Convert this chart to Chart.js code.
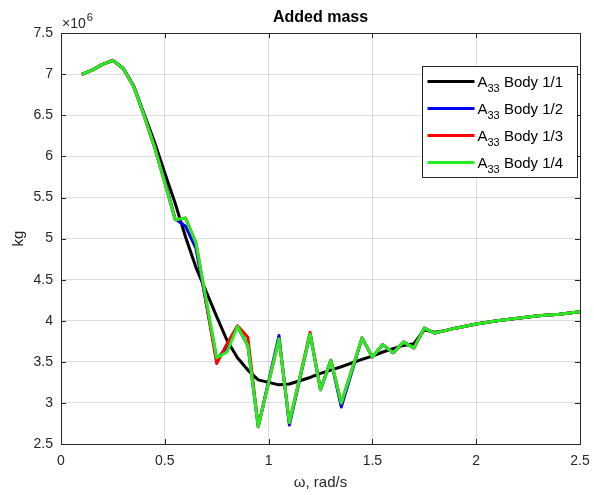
<!DOCTYPE html>
<html>
<head>
<meta charset="utf-8">
<script src="https://cdn.jsdelivr.net/npm/chart.js@4.4.1/dist/chart.umd.min.js"></script>
<style>
  html, body { margin: 0; padding: 0; background: #fff; }
  #wrap { width: 594px; height: 495px; }
</style>
</head>
<body>
<div id="wrap"><canvas id="myChart" width="594" height="495"></canvas></div>
<script>
// Frequencies (rad/s)
const omega = [0.10, 0.15, 0.20, 0.25, 0.30, 0.35, 0.40, 0.45, 0.50, 0.55, 0.60, 0.65, 0.75, 0.80,
    0.85, 0.90, 0.95, 1.05, 1.10, 1.20, 1.25, 1.30, 1.35, 1.45, 1.50, 1.55, 1.60, 1.65, 1.70, 1.75,
    1.80, 1.85, 1.90, 2.00, 2.10, 2.20, 2.30, 2.40, 2.50];

// Added mass A33 in 10^6 kg
const body11 = [7.00, 7.05, 7.12, 7.17, 7.07, 6.86, 6.52, 6.18, 5.80, 5.43, 5.02, 4.65, 4.05, 3.76,
    3.55, 3.40, 3.28, 3.22, 3.23, 3.31, 3.36, 3.40, 3.44, 3.53, 3.57, 3.62, 3.66, 3.70, 3.72, 3.89,
    3.86, 3.88, 3.91, 3.96, 4.00, 4.03, 4.06, 4.08, 4.11];
const body12 = [7.00, 7.05, 7.12, 7.17, 7.07, 6.85, 6.50, 6.12, 5.70, 5.24, 5.15, 4.88, 3.53, 3.68,
    3.93, 3.70, 2.71, 3.82, 2.73, 3.84, 3.16, 3.52, 2.95, 3.79, 3.56, 3.71, 3.61, 3.74, 3.67, 3.91,
    3.85, 3.88, 3.91, 3.96, 4.00, 4.03, 4.06, 4.08, 4.11];
const body13 = [7.00, 7.05, 7.12, 7.17, 7.07, 6.85, 6.50, 6.12, 5.68, 5.23, 5.25, 4.95, 3.48, 3.72,
    3.94, 3.80, 2.71, 3.78, 2.76, 3.86, 3.16, 3.52, 3.00, 3.79, 3.56, 3.71, 3.61, 3.74, 3.67, 3.91,
    3.85, 3.88, 3.91, 3.96, 4.00, 4.03, 4.06, 4.08, 4.11];
const body14 = [7.00, 7.05, 7.12, 7.17, 7.07, 6.85, 6.50, 6.12, 5.68, 5.23, 5.25, 4.95, 3.55, 3.62,
    3.93, 3.70, 2.71, 3.78, 2.76, 3.84, 3.16, 3.52, 3.00, 3.79, 3.56, 3.71, 3.61, 3.74, 3.67, 3.91,
    3.85, 3.88, 3.91, 3.96, 4.00, 4.03, 4.06, 4.08, 4.11];

const seriesNames = ["Body 1/1", "Body 1/2", "Body 1/3", "Body 1/4"];
const seriesColors = ["#000000", "#0000ff", "#ff0000", "#22ee22"];

const axisColor = "#262626";
const fontFamily = "'Liberation Sans', Arial, sans-serif";

function toPoints(values) {
    return omega.map((w, i) => ({ x: w, y: values[i] }));
}

// Box, inside ticks, exponent label and legend (MATLAB look)
const matlabDecor = {
    id: "matlabDecor",
    afterDraw(chart) {
        const ctx = chart.ctx;
        const a = chart.chartArea;
        const xs = chart.scales.x, ys = chart.scales.y;
        ctx.save();
        ctx.strokeStyle = axisColor;
        ctx.lineWidth = 1;
        ctx.strokeRect(Math.round(a.left) + 0.5, Math.round(a.top) + 0.5,
            Math.round(a.right - a.left), Math.round(a.bottom - a.top));

        const tl = 5;
        ctx.beginPath();
        xs.ticks.forEach(t => {
            const px = Math.round(xs.getPixelForValue(t.value)) + 0.5;
            ctx.moveTo(px, a.bottom); ctx.lineTo(px, a.bottom - tl);
            ctx.moveTo(px, a.top); ctx.lineTo(px, a.top + tl);
        });
        ys.ticks.forEach(t => {
            const py = Math.round(ys.getPixelForValue(t.value)) + 0.5;
            ctx.moveTo(a.left, py); ctx.lineTo(a.left + tl, py);
            ctx.moveTo(a.right, py); ctx.lineTo(a.right - tl, py);
        });
        ctx.stroke();

        // x10^6 exponent
        ctx.fillStyle = axisColor;
        ctx.textBaseline = "alphabetic";
        ctx.textAlign = "left";
        ctx.font = "14px " + fontFamily;
        ctx.fillText("\u00d710", a.left + 1, a.top - 5);
        const w = ctx.measureText("\u00d710").width;
        ctx.font = "11px " + fontFamily;
        ctx.fillText("6", a.left + 1 + w + 1, a.top - 12);

        // legend
        const boxW = 155, boxH = 111;
        const bx = Math.round(a.right - 3 - boxW) + 0.5;
        const by = Math.round(a.top + 33) + 0.5;
        ctx.fillStyle = "#fff";
        ctx.fillRect(bx, by, boxW, boxH);
        ctx.strokeStyle = axisColor;
        ctx.lineWidth = 1;
        ctx.strokeRect(bx, by, boxW, boxH);
        chart.data.datasets.forEach((ds, i) => {
            const yy = by + 15 + i * 27;
            ctx.strokeStyle = ds.borderColor;
            ctx.lineWidth = 3;
            ctx.beginPath();
            ctx.moveTo(bx + 5, yy);
            ctx.lineTo(bx + 52, yy);
            ctx.stroke();
            ctx.fillStyle = "#000";
            ctx.font = "15px " + fontFamily;
            ctx.fillText("A", bx + 55, yy + 5);
            const aw = ctx.measureText("A").width;
            ctx.font = "11px " + fontFamily;
            ctx.fillText("33", bx + 55 + aw, yy + 10);
            const sw = ctx.measureText("33").width;
            ctx.font = "15px " + fontFamily;
            ctx.fillText(" " + seriesNames[i], bx + 55 + aw + sw, yy + 5);
        });
        ctx.restore();
    }
};

const chartData = {
    datasets: seriesNames.map((name, i) => ({
        label: "A33 " + name,
        data: toPoints([body11, body12, body13, body14][i]),
        borderColor: seriesColors[i],
        backgroundColor: seriesColors[i],
        borderWidth: 3,
        borderJoinStyle: "round",
        pointRadius: 0,
        tension: 0,
        fill: false,
        order: 4 - i
    }))
};

const config = {
    type: "line",
    data: chartData,
    options: {
        responsive: false,
        animation: false,
        layout: { padding: { right: 14 } },
        plugins: {
            legend: { display: false },
            tooltip: { enabled: false },
            title: {
                display: true,
                text: "Added mass",
                fullSize: false,
                color: "#000",
                font: { family: fontFamily, size: 16, weight: "bold" },
                padding: { top: 8, bottom: 6 }
            }
        },
        scales: {
            x: {
                type: "linear",
                min: 0, max: 2.5,
                ticks: { stepSize: 0.5, color: axisColor, font: { family: fontFamily, size: 14 }, padding: 9, maxRotation: 0,
                    callback: v => String(v) },
                grid: { color: "rgba(0,0,0,0.13)", drawTicks: false },
                border: { display: false },
                title: { display: true, text: "\u03c9, rad/s", color: axisColor, font: { family: fontFamily, size: 15 }, padding: { top: 0, bottom: 3 } },
                afterFit: s => { s.height = 51; s.paddingRight = 0; }
            },
            y: {
                min: 2.5, max: 7.5,
                ticks: { stepSize: 0.5, color: axisColor, font: { family: fontFamily, size: 14 }, padding: 8,
                    callback: v => String(v) },
                grid: { color: "rgba(0,0,0,0.13)", drawTicks: false },
                border: { display: false },
                title: { display: true, text: "kg", color: axisColor, font: { family: fontFamily, size: 15 }, padding: { top: 10, bottom: 0 } },
                afterFit: s => { s.width = 61; }
            }
        }
    },
    plugins: [matlabDecor]
};

var myChart = new Chart(document.getElementById("myChart"), config);
</script>
</body>
</html>
